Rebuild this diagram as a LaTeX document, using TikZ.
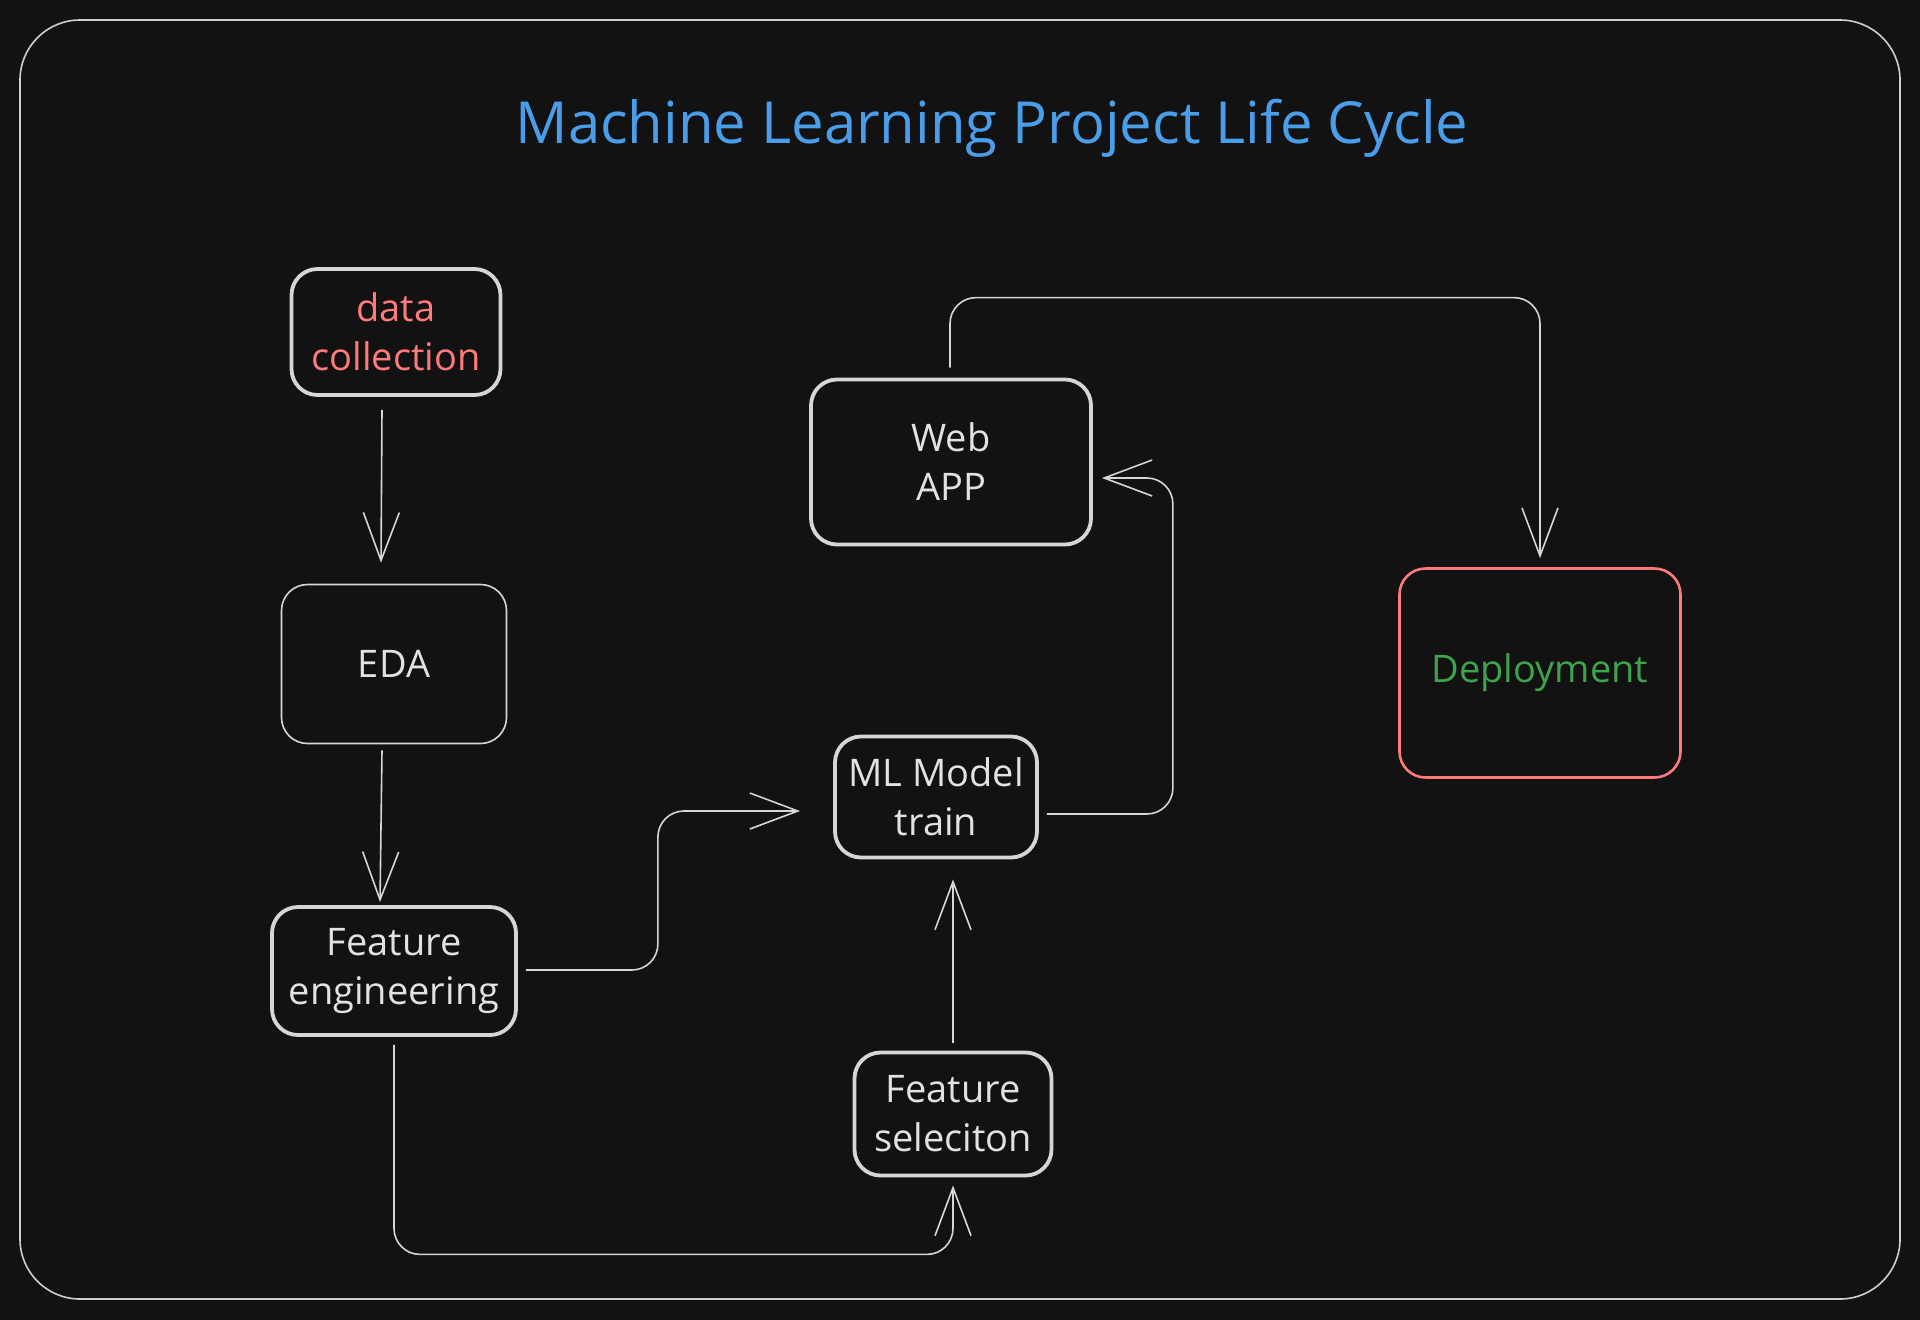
\documentclass[tikz,border=0pt]{standalone}
\usepackage{fontspec}
\setmainfont{Open Sans}
\usetikzlibrary{arrows.meta,calc}
\definecolor{bg}{HTML}{121212}
\definecolor{frame}{HTML}{CFCFCF}
\definecolor{stroke}{HTML}{D6D6D6}
\definecolor{txt}{HTML}{E2E2E2}
\definecolor{titleblue}{HTML}{4A9DE8}
\definecolor{redtxt}{HTML}{FF7A7A}
\definecolor{greentxt}{HTML}{3FA34D}
\definecolor{redline}{HTML}{FF7B7B}
\begin{document}
\begin{tikzpicture}[x=1pt,y=-1pt,
  box/.style={draw=stroke, line width=3.8pt, rounded corners=26pt, align=center,
    text=txt, font=\fontsize{38}{49}\selectfont, inner sep=0pt},
  thinbox/.style={box, line width=1.6pt},
  arr/.style={draw=stroke, line width=1.6pt, rounded corners=26pt,
    -{Straight Barb[length=48pt,width=36pt,line width=1.6pt]}}]
\useasboundingbox[fill=bg] (0,0) rectangle (1920,1320);
\draw[frame, line width=1.6pt, rounded corners=60pt] (20,20) rectangle (1900,1299);
\node[text=titleblue, font=\fontsize{58}{66}\selectfont] (title) at (992,128) {Machine Learning Project Life Cycle};

\node[box, minimum width=209pt, minimum height=126pt, text=redtxt] (dc) at (396,332) {data\\collection};
\node[thinbox, minimum width=225pt, minimum height=159pt] (eda) at (394,664) {EDA};
\node[box, minimum width=244pt, minimum height=128pt] (fe) at (394,971) {Feature\\engineering};
\node[box, minimum width=202pt, minimum height=121pt] (ml) at (936,797) {ML Model\\train};
\node[box, minimum width=197pt, minimum height=123pt] (fs) at (953,1114) {Feature\\seleciton};
\node[box, minimum width=280pt, minimum height=165pt] (web) at (951,462) {Web\\APP};
\node[box, draw=redline, line width=2.6pt, minimum width=281pt, minimum height=209pt, text=greentxt] (dep) at (1540,673) {Deployment};

\draw[arr, rounded corners=0pt] ($(dc.south)+(-14,13)$) -- ($(eda.north)+(-13,-21)$);
\draw[arr, rounded corners=0pt] ($(eda.south)+(-12,6)$) -- ($(fe.north)+(-14,-3)$);
\draw[arr] ($(fe.east)+(8,-1)$) -- ++(132,0) |- ($(ml.west)+(-33,14)$);
\draw[arr] ($(fe.south)+(0,8)$) |- ($(fs.south)+(0,77)$) -- ($(fs.south)+(0,8)$);
\draw[arr, rounded corners=0pt] ($(fs.north)+(0,-8)$) -- ($(fs.north |- ml.south)+(0,20)$);
\draw[arr] ($(ml.east)+(8,17)$) -- ++(126,0) |- ($(web.east)+(9,16)$);
\draw[arr] ($(web.north)+(-1,-10)$) -- ++(0,-70) -| ($(dep.north)+(0,-9)$);
\end{tikzpicture}
\end{document}
